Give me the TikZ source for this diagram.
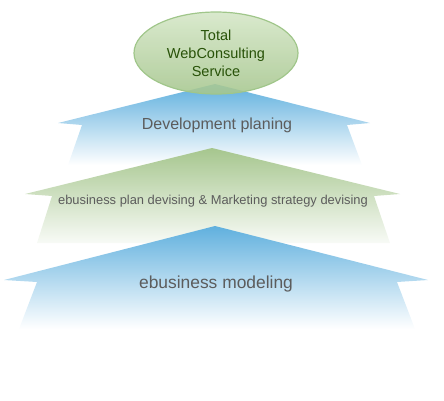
\documentclass[tikz,border=0pt]{standalone}
\usepackage{fontspec}
\setmainfont{Liberation Sans}
\definecolor{wcblue}{RGB}{96,176,222}
\definecolor{wcgreen}{RGB}{166,198,142}
\definecolor{wcleaf}{RGB}{212,230,198}
\definecolor{wcrim}{RGB}{160,198,138}
\definecolor{wctext}{RGB}{92,92,92}
\definecolor{wcdark}{RGB}{40,82,8}
\usetikzlibrary{shapes.geometric}

\begin{document}
\begin{tikzpicture}[x=1pt, y=1pt,
  bluearr/.style={top color=wcblue, bottom color=white},
  greenarr/.style={top color=wcgreen, bottom color=wcgreen!8},
  lbl/.style={text=wctext, align=center},
  goal/.style={ellipse, draw=wcrim, line width=1.2pt, top color=wcleaf,
               bottom color=wcgreen, minimum width=164pt, minimum height=82pt,
               inner sep=0pt, text=wcdark, align=center,
               font=\fontsize{14.5}{18}\selectfont}
]
\useasboundingbox (0,0) rectangle (444,-400);

% Top arrow
\shade[bluearr] (215,-84) -- (370,-123) -- (347,-125) -- (362,-165)
  -- (68,-165) -- (82,-125) -- (58,-123) -- cycle;
% Middle arrow
\shade[greenarr] (212,-148) -- (400,-194) -- (374,-196) -- (390,-243)
  -- (37,-243) -- (52,-196) -- (25,-194) -- cycle;
% Bottom arrow
\shade[bluearr] (215,-226) -- (428,-280) -- (397,-282) -- (415,-329)
  -- (19,-329) -- (37,-282) -- (4,-280) -- cycle;

% Labels
\node[lbl, font=\fontsize{16}{19}\selectfont] (devplan) at (217,-125) {Development planing};
\node[lbl, font=\fontsize{12.9}{15}\selectfont] (planmkt) at (213,-201)
  {ebusiness plan devising \& Marketing strategy devising};
\node[lbl, font=\fontsize{17.4}{20}\selectfont] (model) at (216,-284) {ebusiness modeling};

% Goal
\node[goal, fill opacity=0.88, text opacity=1] (total) at (216,-53)
  {Total\\WebConsulting\\Service};
\end{tikzpicture}
\end{document}
